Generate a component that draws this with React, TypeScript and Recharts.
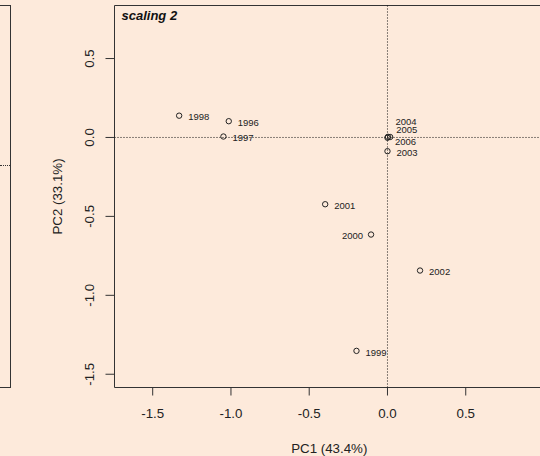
import { ScatterChart, Scatter, XAxis, YAxis, ReferenceLine, ReferenceArea, Label } from 'recharts'

const years = ['1996', '1997', '1998', '1999', '2000', '2001', '2002', '2003', '2004', '2005', '2006']
const pc1 = [-1.014, -1.048, -1.331, -0.198, -0.105, -0.398, 0.208, 0.0, 0.003, 0.017, 0.0]
const pc2 = [0.103, 0.006, 0.138, -1.352, -0.615, -0.423, -0.843, -0.087, 0.004, 0.003, -0.002]
const xTicks = [-1.5, -1.0, -0.5, 0.0, 0.5]
const yTicks = [-1.5, -1.0, -0.5, 0.0, 0.5]

const xDomain: [number, number] = [-1.744, 1.0]
const yDomain: [number, number] = [-1.584, 0.836]

const points = years.map((year, i) => ({ year, x: pc1[i], y: pc2[i] }))

const FONT = '"Liberation Sans", Arial, sans-serif'
const INK = '#222'
const BG = '#fdeadb'

// label placement tweaks (px) for the crowded / flipped labels
const labelNudge: Record<string, { dx: number; dy: number; anchor?: 'start' | 'end' }> = {
  '2000': { dx: -8, dy: 1.3, anchor: 'end' },
  '2004': { dx: 7.5, dy: -14.8 },
  '2005': { dx: 6, dy: -7.5 },
  '2006': { dx: 7.5, dy: 3.5 },
}

function PointShape(props: any) {
  const { cx, cy } = props
  const year = props.payload?.year ?? props.year
  const n = labelNudge[year] ?? { dx: 9, dy: 1.3 }
  return (
    <g>
      <circle cx={cx} cy={cy} r={2.7} fill="none" stroke={INK} strokeWidth={1} />
      <text
        x={cx + n.dx}
        y={cy + n.dy}
        dy="0.35em"
        textAnchor={n.anchor ?? 'start'}
        fontSize={9.5}
        fontFamily={FONT}
        fill={INK}
      >
        {year}
      </text>
    </g>
  )
}

function XTick({ x, y, payload }: any) {
  return (
    <text x={x} y={y} dy="0.71em" textAnchor="middle" fontSize={13.3} fontFamily={FONT} fill={INK}>
      {Number(payload.value).toFixed(1)}
    </text>
  )
}

function YTick({ x, y, payload }: any) {
  return (
    <text
      x={x}
      y={y}
      transform={`rotate(-90 ${x} ${y})`}
      textAnchor="middle"
      fontSize={13.3}
      fontFamily={FONT}
      fill={INK}
    >
      {Number(payload.value).toFixed(1)}
    </text>
  )
}

export default function App() {
  return (
    <div
      style={{
        position: 'fixed',
        left: 0,
        top: 0,
        width: 540,
        height: 456,
        overflow: 'hidden',
        background: BG,
      }}
    >
      {/* edge of the neighbouring panel */}
      <div
        style={{
          position: 'absolute',
          left: -1,
          top: 5,
          width: 12,
          height: 383,
          boxSizing: 'border-box',
          border: '1px solid #333',
        }}
      />
      <div
        style={{
          position: 'absolute',
          left: 0,
          top: 165,
          width: 10,
          borderTop: '1px dotted #333',
        }}
      />

      <div style={{ position: 'absolute', left: 0, top: 0 }}>
        <ScatterChart width={560} height={456} margin={{ top: 5.5, right: 16, left: 64.5, bottom: 8.5 }}>
          <XAxis
            type="number"
            dataKey="x"
            domain={xDomain}
            ticks={xTicks}
            allowDataOverflow
            axisLine={false}
            tickSize={8}
            tickMargin={13}
            tickLine={{ stroke: '#333' }}
            tick={<XTick />}
            height={60}
          >
            <Label
              content={(p: any) => {
                const vb = p.viewBox ?? { x: 114.5, y: 387.5, width: 429.5, height: 60 }
                return (
                  <text
                    x={vb.x + vb.width / 2}
                    y={vb.y + 65}
                    textAnchor="middle"
                    fontSize={13.3}
                    fontFamily={FONT}
                    fill={INK}
                  >
                    PC1 (43.4%)
                  </text>
                )
              }}
            />
          </XAxis>
          <YAxis
            type="number"
            dataKey="y"
            domain={yDomain}
            ticks={yTicks}
            allowDataOverflow
            axisLine={false}
            tickSize={9}
            tickMargin={11}
            tickLine={{ stroke: '#333' }}
            tick={<YTick />}
            width={50}
          >
            <Label
              content={(p: any) => {
                const vb = p.viewBox ?? { x: 64.5, y: 5.5, width: 50, height: 382 }
                const cx = vb.x - 2.5
                const cy = vb.y + vb.height / 2
                return (
                  <text
                    x={cx}
                    y={cy}
                    transform={`rotate(-90 ${cx} ${cy})`}
                    textAnchor="middle"
                    fontSize={13.3}
                    fontFamily={FONT}
                    fill={INK}
                  >
                    PC2 (33.1%)
                  </text>
                )
              }}
            />
          </YAxis>
          <ReferenceArea
            x1={xDomain[0]}
            x2={xDomain[1]}
            y1={yDomain[0]}
            y2={yDomain[1]}
            fill="none"
            stroke="#333"
            strokeWidth={1}
            ifOverflow="visible"
          />
          <ReferenceLine x={0} stroke="#111" strokeDasharray="1 2" />
          <ReferenceLine y={0} stroke="#111" strokeDasharray="1 2" />
          <Scatter data={points} shape={<PointShape />} isAnimationActive={false} />
        </ScatterChart>
      </div>

      <svg style={{ position: 'absolute', left: 0, top: 0 }} width={540} height={40}>
        <text x={121.5} y={20} fontSize={13} fontWeight="bold" fontStyle="italic" fontFamily={FONT} fill="#111">
          scaling 2
        </text>
      </svg>
    </div>
  )
}
